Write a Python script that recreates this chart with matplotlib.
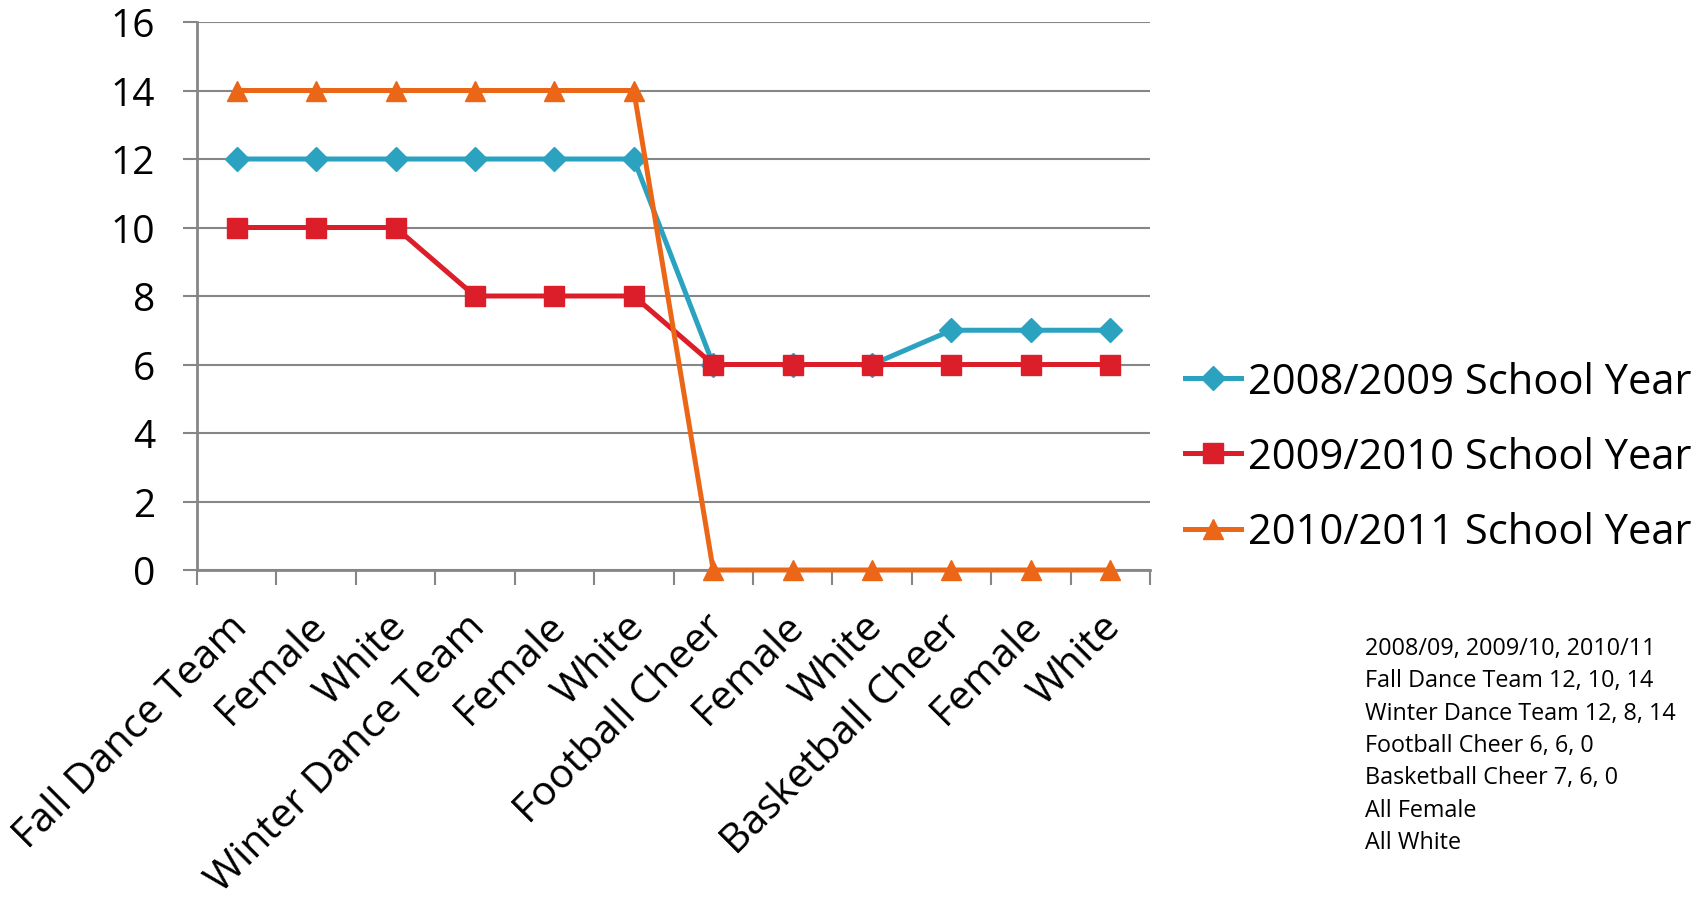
import matplotlib
matplotlib.use("Agg")
import matplotlib.pyplot as plt
import matplotlib.transforms as mtransforms
import numpy as np

plt.rcParams['font.family'] = ['Open Sans', 'DejaVu Sans']

categories = ['Fall Dance Team', 'Female', 'White', 'Winter Dance Team', 'Female', 'White',
              'Football Cheer', 'Female', 'White', 'Basketball Cheer', 'Female', 'White']
year_0809 = [12, 12, 12, 12, 12, 12, 6, 6, 6, 7, 7, 7]
year_0910 = [10, 10, 10, 8, 8, 8, 6, 6, 6, 6, 6, 6]
year_1011 = [14, 14, 14, 14, 14, 14, 0, 0, 0, 0, 0, 0]
series_names = ['2008/2009 School Year', '2009/2010 School Year', '2010/2011 School Year']
note_lines = ['2008/09, 2009/10, 2010/11',
              'Fall Dance Team 12, 10, 14',
              'Winter Dance Team 12, 8, 14',
              'Football Cheer 6, 6, 0',
              'Basketball Cheer 7, 6, 0',
              'All Female',
              'All White']

grey = '#868686'
fig = plt.figure(figsize=(17.02, 9.04), dpi=100)
ax = fig.add_axes([197 / 1702, 1 - 571 / 904, (1150 - 197) / 1702, (571 - 23) / 904])

x = np.arange(len(categories))
ax.plot(x, year_0809, color='#2BA3C0', lw=3.6, marker='D', ms=12, label=series_names[0], clip_on=False, zorder=3)
ax.plot(x, year_0910, color='#DC1E2A', lw=3.6, marker='s', ms=14, label=series_names[1], clip_on=False, zorder=4)
ax.plot(x, year_1011, color='#EC6618', lw=3.6, marker='^', ms=15, label=series_names[2], clip_on=False, zorder=5)

ax.set_xlim(-0.5, len(categories) - 0.5)
ax.set_ylim(0, 16)
ax.set_yticks(range(0, 17, 2))
ax.grid(axis='y', color=grey, lw=1.5)
ax.set_axisbelow(True)

for s in ['top', 'right']:
    ax.spines[s].set_visible(False)
for s in ['left', 'bottom']:
    ax.spines[s].set_color(grey)
    ax.spines[s].set_linewidth(2)

ax.tick_params(axis='y', length=10, width=1.5, color=grey, labelsize=28, pad=20)
ax.set_xticks(x)
ax.set_xticks(np.arange(-0.5, len(categories), 1), minor=True)
ax.tick_params(axis='x', which='major', length=0, pad=26)
ax.tick_params(axis='x', which='minor', length=11, width=1.5, color=grey)
ax.set_xticklabels(categories, rotation=45, ha='right', fontsize=29.5)
offset = mtransforms.ScaledTranslation(19 / 100, 0, fig.dpi_scale_trans)
for lab in ax.get_xticklabels():
    lab.set_transform(lab.get_transform() + offset)

ax.legend(loc='center left', bbox_to_anchor=(1185 / 1702, 1 - 458 / 904), bbox_transform=fig.transFigure,
          frameon=False, fontsize=30, handlelength=1.35, handletextpad=0.15, labelspacing=0.8,
          borderpad=0, borderaxespad=0)

fig.text(1365 / 1702, 1 - 637 / 904, '\n'.join(note_lines), fontsize=16.8, va='top', ha='left', linespacing=1.465)

fig.savefig('out.png', dpi=100)
